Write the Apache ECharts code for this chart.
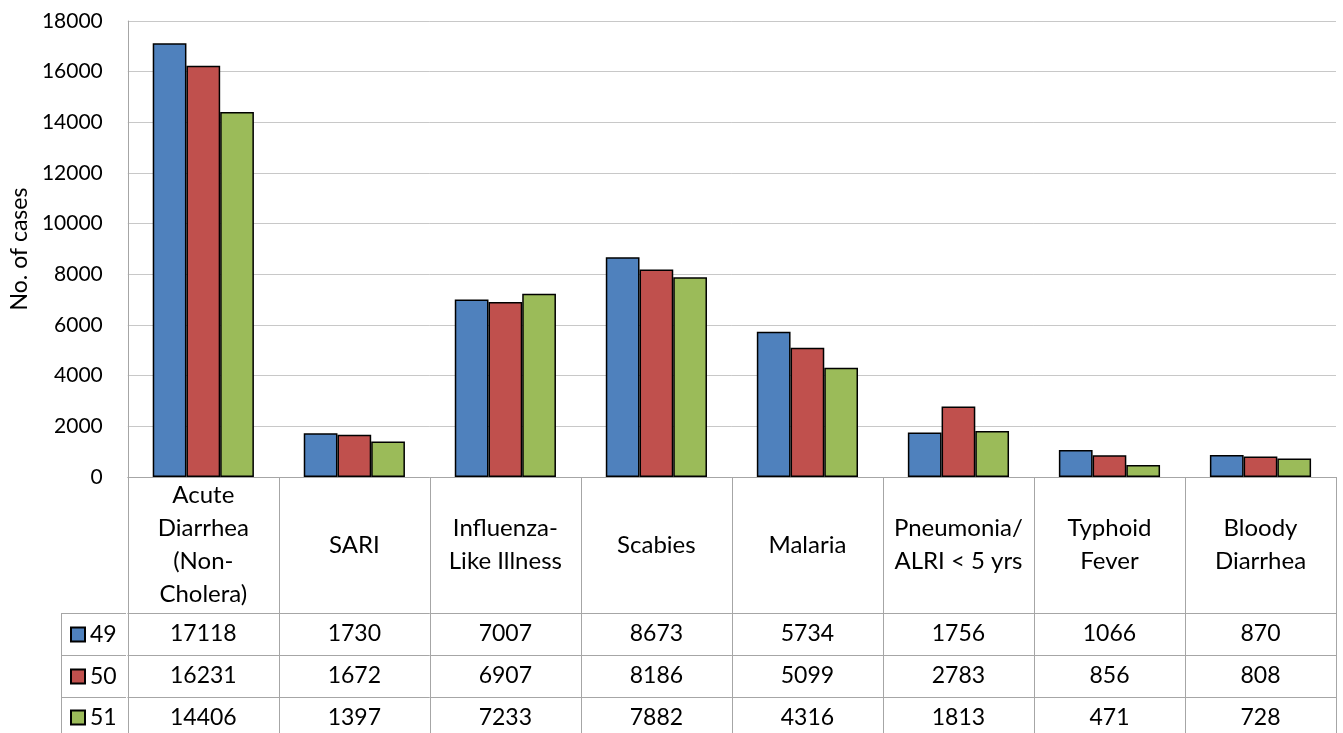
<!DOCTYPE html>
<html>
<head>
<meta charset="utf-8">
<script src="https://cdn.jsdelivr.net/npm/echarts@6/dist/echarts.min.js"></script>
<style>
html,body{margin:0;padding:0;background:#fff;}
#chart{width:1343px;height:733px;}
</style>
</head>
<body>
<div id="chart"></div>
<script>
var categories = ["Acute\nDiarrhea\n(Non-\nCholera)", "SARI", "Influenza-\nLike Illness", "Scabies", "Malaria", "Pneumonia/\nALRI < 5 yrs", "Typhoid\nFever", "Bloody\nDiarrhea"];
var seriesNames = ["49", "50", "51"];
var week49 = [17118, 1730, 7007, 8673, 5734, 1756, 1066, 870];
var week50 = [16231, 1672, 6907, 8186, 5099, 2783, 856, 808];
var week51 = [14406, 1397, 7233, 7882, 4316, 1813, 471, 728];
var yTicks = {min: 0, max: 18000, interval: 2000};

var colors = ["#4F81BD", "#C0504D", "#9BBB59"];
var FONT = "Lato";
var lineGray = "#a6a6a6";
var allData = [week49, week50, week51];

var chart = echarts.init(document.getElementById('chart'));

var tableAxis = function (row, offset) {
  return {
    type: 'category', gridIndex: 0, position: 'bottom', offset: offset,
    data: categories,
    axisLine: {show: true, lineStyle: {color: lineGray, width: 1}},
    axisTick: {show: false},
    axisLabel: {
      interval: 0, margin: 21, verticalAlign: 'middle',
      fontFamily: FONT, fontSize: 23, color: '#000',
      formatter: function (v, i) { return String(allData[row][i]); }
    },
    splitLine: {show: false}
  };
};

var legendTops = [623, 665, 706];
var legends = seriesNames.map(function (n, k) {
  return {
    orient: 'horizontal', left: 70, top: legendTops[k], padding: 0,
    itemWidth: 14, itemHeight: 14,
    icon: 'rect',
    data: [n],
    textStyle: {fontFamily: FONT, fontSize: 23, color: '#000', padding: [2, 0, 0, 0]},
    selectedMode: false
  };
});

var option = {
  backgroundColor: '#fff',
  animation: false,
  textStyle: {fontFamily: FONT},
  grid: {left: 126, right: 7, top: 21, bottom: 256, containLabel: false},
  legend: legends,
  xAxis: [
    {
      type: 'category', data: categories, gridIndex: 0, position: 'bottom',
      axisLine: {show: true, lineStyle: {color: lineGray, width: 1}},
      axisTick: {show: true, interval: 0, length: 262, lineStyle: {color: lineGray, width: 1}},
      axisLabel: {
        interval: 0, margin: 68, verticalAlign: 'middle', align: 'center',
        fontFamily: FONT, fontSize: 24, lineHeight: 33, color: '#000'
      },
      splitLine: {show: false}
    },
    tableAxis(0, 136),
    tableAxis(1, 178),
    tableAxis(2, 220)
  ],
  yAxis: {
    type: 'value', min: yTicks.min, max: yTicks.max, interval: yTicks.interval,
    name: 'No. of cases', nameLocation: 'middle', nameGap: 96,
    nameTextStyle: {fontFamily: FONT, fontSize: 23, color: '#000'},
    axisLine: {show: true, lineStyle: {color: lineGray, width: 1}},
    axisTick: {show: false},
    axisLabel: {margin: 25, fontFamily: FONT, fontSize: 21, color: '#000',
      formatter: function (v) { return String(v); }},
    splitLine: {show: true, lineStyle: {color: '#c8c8c8', width: 1}}
  },
  series: seriesNames.map(function (n, k) {
    return {
      name: n, type: 'bar', xAxisIndex: 0, data: allData[k],
      barGap: 0, barCategoryGap: '33%',
      itemStyle: {color: colors[k], borderColor: '#000', borderWidth: 1.5}
    };
  }),
  graphic: [
    {type: 'line', shape: {x1: 61, y1: 613.5, x2: 126, y2: 613.5}, style: {stroke: lineGray, lineWidth: 1}},
    {type: 'line', shape: {x1: 61, y1: 655.5, x2: 126, y2: 655.5}, style: {stroke: lineGray, lineWidth: 1}},
    {type: 'line', shape: {x1: 61, y1: 697.5, x2: 126, y2: 697.5}, style: {stroke: lineGray, lineWidth: 1}},
    {type: 'line', shape: {x1: 61.5, y1: 613, x2: 61.5, y2: 733}, style: {stroke: lineGray, lineWidth: 1}}
  ]
};
chart.setOption(option);
</script>
</body>
</html>
